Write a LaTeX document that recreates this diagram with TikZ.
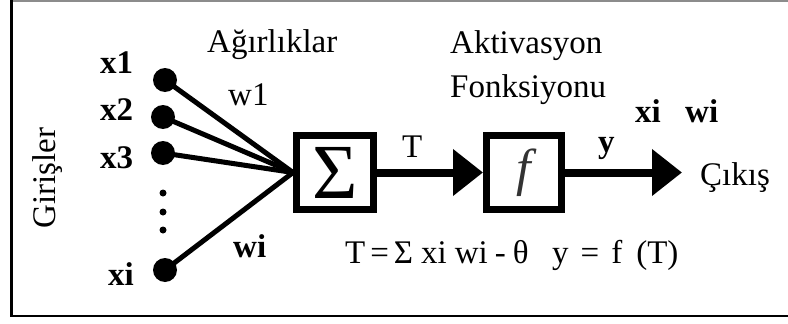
\documentclass[tikz,border=0pt]{standalone}
\usepackage{fontspec}
\setmainfont{Liberation Serif}
\usetikzlibrary{arrows.meta}
\begin{document}
\begin{tikzpicture}[x=1pt,y=-1pt,
  lbl/.style={anchor=base west,inner sep=0pt,font=\fontsize{33}{33}\selectfont},
  blbl/.style={lbl,font=\fontsize{33}{33}\selectfont\bfseries},
  bigdot/.style={circle,fill=black,minimum size=24pt,inner sep=0pt},
  smalldot/.style={circle,fill=black,minimum size=7pt,inner sep=0pt},
  unitbox/.style={draw=black,line width=7pt,minimum height=74pt,inner sep=0pt},
  wire/.style={line width=5pt},
  flow/.style={line width=8pt,-{Triangle[length=30pt,width=45pt]}}]
\useasboundingbox (0,0) rectangle (788,324);
\fill[white] (0,0) rectangle (788,324);
% frame
\draw[black!45,line width=1.5pt] (11.5,0.8) -- (788,0.8);
\draw[black,line width=2.5pt] (11.5,0) -- (11.5,316) -- (788,316);
% boxes
\node[unitbox,minimum width=77pt] (sig) at (335,172.5) {\fontsize{78}{78}\selectfont Σ};
\node[unitbox,minimum width=75pt] (f) at (524,172.5) {\color{black!80}\fontsize{52}{52}\selectfont\itshape f};
% inputs
\node[bigdot] (d1) at (165,80) {};
\node[bigdot] (d2) at (163,117) {};
\node[bigdot] (d3) at (163,153) {};
\node[bigdot] (di) at (165,270) {};
\node[smalldot] (s1) at (163,193) {};
\node[smalldot] (s2) at (163,212) {};
\node[smalldot] (s3) at (163,230) {};
\draw[wire] (d1.center) -- (sig.west);
\draw[wire] (d2.center) -- (sig.west);
\draw[wire] (d3.center) -- (sig.west);
\draw[wire] (di.center) -- (sig.west);
% connectors
\coordinate (out) at (682,172.5);
\draw[flow] (sig.east) -- (f.west);
\draw[flow] (f.east) -- (out);
% labels
\node[blbl] (lx1) at (100,73) {x1};
\node[blbl] (lx2) at (100,120) {x2};
\node[blbl] (lx3) at (100,168) {x3};
\node[blbl] (lxi) at (108,285) {xi};
\node[lbl,rotate=90,anchor=center] (gir) at (48,178) {Girişler};
\node[lbl] (agr) at (207,52) {Ağırlıklar};
\node[lbl] (w1) at (228,105) {w1};
\node[blbl] (wi) at (233,257) {wi};
\node[lbl] (akt) at (450,53) {Aktivasyon};
\node[lbl] (fon) at (450,97) {Fonksiyonu};
\node[lbl] (lT) at (402,157) {T};
\node[blbl] (ly) at (598,152) {y};
\node[blbl] (txi) at (635,122) {xi};
\node[blbl] (twi) at (685,122) {wi};
\node[lbl] (cik) at (700,185) {Çıkış};
\node[lbl] (eqT) at (345,263) {T\hspace{5pt}=\hspace{5pt}Σ\hspace{8pt}xi\hspace{8pt}wi\hspace{7pt}-\hspace{7pt}θ};
\node[lbl] (eqy) at (552,263) {y\hspace{12pt}=\hspace{12pt}f\hspace{14pt}(T)};
\end{tikzpicture}
\end{document}
